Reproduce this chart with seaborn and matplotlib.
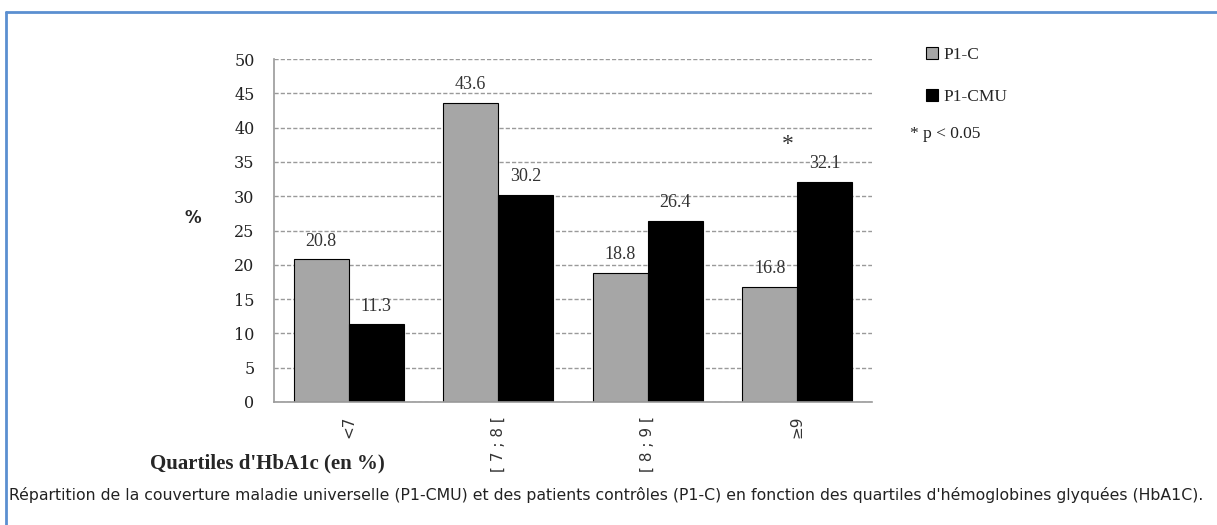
import pandas as pd
import matplotlib
matplotlib.use("Agg")
import matplotlib.pyplot as plt
from matplotlib.lines import Line2D
import seaborn as sns

# Data
quartiles = ["<7", "[ 7 ; 8 [", "[ 8 ; 9 [", "\u22659"]
p1_c = [20.8, 43.6, 18.8, 16.8]
p1_cmu = [11.3, 30.2, 26.4, 32.1]
series = ["P1-C", "P1-CMU"]
y_ticks = list(range(0, 55, 5))

df = pd.DataFrame({
    "Quartile": quartiles * 2,
    "Valeur": p1_c + p1_cmu,
    "Groupe": [series[0]] * 4 + [series[1]] * 4,
})

sns.set_style("white")
plt.rcParams["font.family"] = ["Liberation Serif", "DejaVu Serif"]

fig = plt.figure(figsize=(12.17, 5.25), dpi=100)
ax = fig.add_axes([0.2251, 0.2343, 0.4914, 0.6533])

sns.barplot(data=df, x="Quartile", y="Valeur", hue="Groupe", order=quartiles,
            hue_order=series, palette=["#a6a6a6", "#000000"], width=0.735,
            edgecolor="black", linewidth=0.8, saturation=1, ax=ax, legend=True)

for cont in ax.containers:
    ax.bar_label(cont, fmt="%.1f", padding=7, fontsize=13, color="#333333")

# significance star over last group
ax.text(3 - 0.06, 37.6, "*", ha="center", va="center", fontsize=17, color="#333333")

ax.set_ylim(0, 50)
ax.set_xlim(-0.5, 3.5)
ax.set_yticks(y_ticks)
ax.set_yticklabels([str(v) for v in y_ticks], fontsize=11.5, fontfamily="DejaVu Serif",
                   color="#222222")
ax.tick_params(axis="y", length=0, pad=14)
ax.tick_params(axis="x", length=0, pad=10)
ax.set_xticks(range(4))
ax.set_xticklabels(quartiles, rotation=90, fontsize=11, fontfamily="DejaVu Sans",
                   color="#333333")
ax.yaxis.grid(True, linestyle=(0, (3, 1.5)), color="#9a9a9a", linewidth=1)
ax.set_axisbelow(True)
for s in ["top", "right"]:
    ax.spines[s].set_visible(False)
ax.spines["left"].set_color("#9a9a9a")
ax.spines["bottom"].set_color("#9a9a9a")
ax.spines["left"].set_linewidth(1.2)
ax.spines["bottom"].set_linewidth(1.2)
ax.set_xlabel("")
ax.set_ylabel("")

# legend
handles, labels = ax.get_legend_handles_labels()
ax.legend(handles, labels, loc="upper left", bbox_to_anchor=(0.748, 0.94),
          bbox_transform=fig.transFigure, frameon=False, handlelength=0.7,
          handleheight=0.7, handletextpad=0.3, labelspacing=1.5, fontsize=12.5)
fig.text(0.748, 0.737, "* p < 0.05", fontsize=12.5, color="#222222")

fig.text(0.152, 0.575, "%", fontsize=12, fontweight="bold", fontfamily="DejaVu Sans")
fig.text(0.123, 0.107, "Quartiles d'HbA1c (en %)", fontsize=15, fontweight="bold",
         fontfamily=["Liberation Serif"])
fig.text(0.007, 0.047,
         "Répartition de la couverture maladie universelle (P1-CMU) et des patients "
         "contrôles (P1-C) en fonction des quartiles d'hémoglobines glyquées (HbA1C).",
         fontsize=11.3, fontfamily=["Liberation Sans Narrow", "DejaVu Sans"], color="#222222")

# blue frame (top and left)
fig.add_artist(Line2D([0.005, 1.0], [0.977, 0.977], color="#5b8fd0", linewidth=2,
                      transform=fig.transFigure))
fig.add_artist(Line2D([0.005, 0.005], [0.0, 0.977], color="#5b8fd0", linewidth=2,
                      transform=fig.transFigure))

fig.savefig("out.png", dpi=100)
